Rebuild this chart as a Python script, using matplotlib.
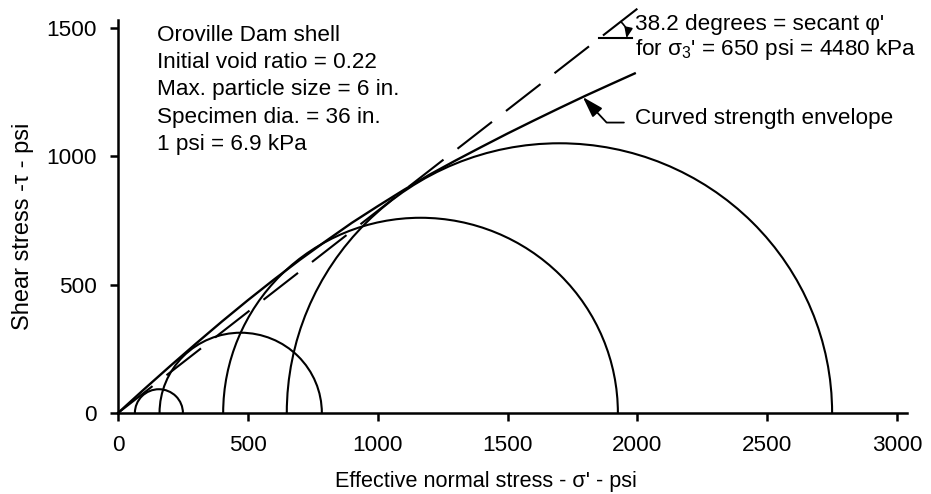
import math
import matplotlib
matplotlib.use("Agg")
import matplotlib.pyplot as plt
from matplotlib.patches import Arc

plt.rcParams['font.family'] = ['Liberation Sans', 'DejaVu Sans']
plt.rcParams['mathtext.fontset'] = 'custom'
plt.rcParams['mathtext.rm'] = 'Liberation Sans'
plt.rcParams['mathtext.it'] = 'Liberation Sans'

# triaxial tests: minor and major effective principal stresses (psi)
sigma3 = [65, 160, 405, 650]
sigma1 = [250, 785, 1925, 2750]

# curved strength envelope read at these normal stresses (psi)
env_sigma = [0, 100, 200, 300, 400, 500, 600, 700, 800, 900, 1000, 1100,
             1200, 1300, 1400, 1500, 1600, 1700, 1800, 1900, 1990]
env_tau = [0, 92, 182, 270, 356, 439, 519, 596, 669, 740, 805, 868,
           928, 983, 1036, 1088, 1138, 1187, 1235, 1281, 1322]

# secant friction angle for sigma3' = 650 psi, drawn out to this normal stress
phi_secant = 38.2
secant_end = 2000

xticks = [0, 500, 1000, 1500, 2000, 2500, 3000]
yticks = [0, 500, 1000, 1500]

info_lines = ["Oroville Dam shell",
              "Initial void ratio = 0.22",
              "Max. particle size = 6 in.",
              "Specimen dia. = 36 in.",
              "1 psi = 6.9 kPa"]

fig = plt.figure(figsize=(9.31, 4.94), dpi=100)
ax = fig.add_axes([118 / 931, 81 / 494, 805 / 931, 411 / 494])
ax.set_xlim(0, 3100)
ax.set_ylim(0, 1600)

lw = 1.5
for s3, s1 in zip(sigma3, sigma1):
    c = (s1 + s3) / 2
    d = s1 - s3
    ax.add_patch(Arc((c, 0), d, d, theta1=0, theta2=180, color='black', lw=lw))

ax.plot(env_sigma, env_tau, color='black', lw=1.7, clip_on=False)

tan_phi = math.tan(math.radians(phi_secant))
ax.plot([0, secant_end], [0, secant_end * tan_phi], color='black', lw=lw,
        ls=(0, (21, 8.5)), clip_on=False)

# angle marker on the secant line
tau_mark = 1459
s_mark = tau_mark / tan_phi
ax.plot([s_mark, s_mark + 125], [tau_mark, tau_mark], color='black', lw=lw, clip_on=False)
r = 104
ax.annotate('', xy=(s_mark + r, tau_mark),
            xytext=(s_mark + r * math.cos(math.radians(phi_secant)),
                    tau_mark + r * math.sin(math.radians(phi_secant))),
            arrowprops=dict(arrowstyle='-|>,head_length=0.5,head_width=0.2',
                            connectionstyle='arc3,rad=-0.3', color='black',
                            lw=1.2, shrinkA=0, shrinkB=0, mutation_scale=12),
            annotation_clip=False)

fs = 16.2
ax.text(1991, 1490, "38.2 degrees = secant \u03c6'", fontsize=fs, ha='left', va='baseline')
ax.text(1991, 1393, r"for σ$_3$' = 650 psi = 4480 kPa", fontsize=fs, ha='left', va='baseline')

ax.annotate("Curved strength envelope", xy=(1790, 1230), xytext=(1991, 1147),
            fontsize=fs, ha='left', va='center',
            arrowprops=dict(arrowstyle='-|>,head_length=0.8,head_width=0.25',
                            connectionstyle='angle,angleA=0,angleB=-47,rad=0',
                            color='black', lw=1.3, shrinkA=6, shrinkB=0,
                            mutation_scale=16, relpos=(0, 0.3)))

ax.text(0.048, 0.945, "\n".join(info_lines), transform=ax.transAxes,
        fontsize=fs, ha='left', va='top', linespacing=1.4)

for side in ['top', 'right']:
    ax.spines[side].set_visible(False)
ax.spines['left'].set_bounds(0, 1530)
ax.spines['bottom'].set_bounds(0, 3040)
for side in ['left', 'bottom']:
    ax.spines[side].set_linewidth(1.8)

ax.set_xticks(xticks)
ax.set_yticks(yticks)
ax.tick_params(direction='out', length=6, width=1.8, labelsize=fs)
ax.tick_params(axis='y', pad=9)
ax.tick_params(axis='x', pad=10)

ax.set_xlabel("Effective normal stress - σ' - psi", fontsize=15.6)
ax.xaxis.set_label_coords(0.457, -0.14)
ax.set_ylabel("Shear stress -τ - psi", fontsize=17)
ax.yaxis.set_label_coords(-0.104, 0.455)

fig.savefig("out.png", dpi=100)
